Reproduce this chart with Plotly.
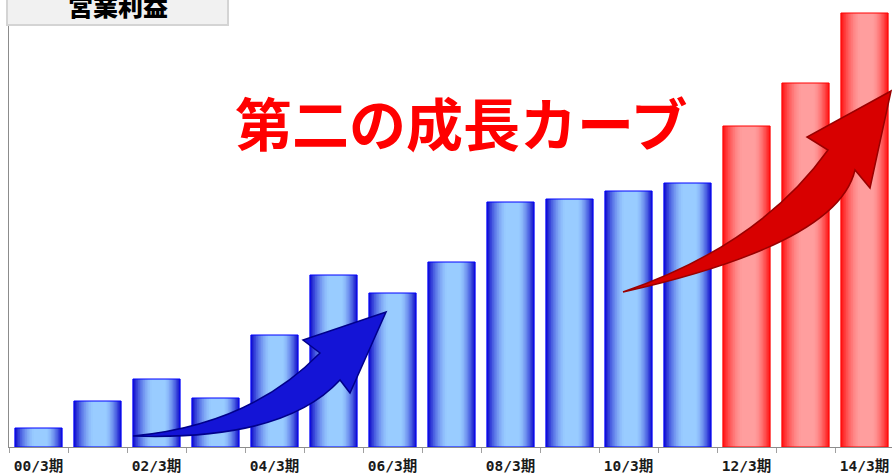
import plotly.graph_objects as go

# ---------------- data ----------------
periods = ["00/3期", "01/3期", "02/3期", "03/3期", "04/3期", "05/3期", "06/3期", "07/3期",
           "08/3期", "09/3期", "10/3期", "11/3期", "12/3期", "13/3期", "14/3期"]
operating_profit = [19, 46, 68, 49, 112, 172, 154, 185, 245, 248, 256, 264, 321, 364, 434]
phase = ["actual"] * 12 + ["plan"] * 3
title_text = "営業利益"
headline = "第二の成長カーブ"

# ---------------- layout constants ----------------
W, H = 892, 475
ML, MR, MT, MB = 9, 0, 0, 28
PW, PH = W - ML - MR, H - MT - MB
CAT_PX = 59.0
x_range = [-0.5, -0.5 + PW / CAT_PX]
y_range = [0, PH]

def to_data(px, py):
    return ((px - ML) / CAT_PX - 0.5, (H - MB - py) * (y_range[1] - y_range[0]) / PH)

def to_paper(px, py):
    return ((px - ML) / PW, (H - MB - py) / PH)

xs = list(range(len(periods)))

edge = {"actual": (22, 22, 205), "plan": (255, 25, 25)}
center = {"actual": (153, 204, 255), "plan": (255, 158, 158)}
outline = {"actual": "rgb(0,0,255)", "plan": "rgb(255,0,0)"}

def mix(a, b, t):
    return "rgb(%d,%d,%d)" % tuple(round(a[i] + (b[i] - a[i]) * t) for i in range(3))

fig = go.Figure()
N = 12
BW = 0.8
for i in range(N):
    t = i / (N - 1)
    w = BW * (1 - 0.72 * t)
    ct = 1 - (1 - t) ** 1.6
    cols = [mix(edge[p], center[p], ct) for p in phase]
    fig.add_trace(go.Bar(
        x=xs, y=operating_profit, width=w, offset=-w / 2 + 0.03 * t,
        marker=dict(color=cols, line=dict(width=0)),
        hoverinfo="skip", showlegend=False))
fig.add_trace(go.Bar(
    x=xs, y=operating_profit, width=BW, offset=-BW / 2,
    marker=dict(color="rgba(0,0,0,0)", line=dict(color=[outline[p] for p in phase], width=1)),
    customdata=periods, hovertemplate="%{customdata}: %{y}<extra></extra>", showlegend=False))

# ---------------- decorative curved arrows ----------------
def pt(px, py):
    x, y = to_data(px, py)
    return "%.4f,%.3f" % (x, y)

def arrow(tail, c_up, neck_up, barb_up, tip, barb_lo, neck_lo, c_lo):
    return ("M " + pt(*tail) + " Q " + pt(*c_up) + " " + pt(*neck_up) +
            " L " + pt(*barb_up) + " L " + pt(*tip) + " L " + pt(*barb_lo) +
            " L " + pt(*neck_lo) + " Q " + pt(*c_lo) + " " + pt(*tail) + " Z")

blue_arrow = arrow((133, 436), (250, 425), (320, 353), (303, 340), (386, 312),
                   (350, 393), (340, 380), (284, 441))
red_arrow = arrow((623, 292), (760, 245), (828, 150), (807, 137), (891, 91),
                  (870, 188), (855, 170), (838, 244))

shapes = [
    dict(type="path", path=blue_arrow, xref="x", yref="y",
         fillcolor="#1414d6", line=dict(color="#00008a", width=1.5)),
    dict(type="path", path=red_arrow, xref="x", yref="y",
         fillcolor="#d80000", line=dict(color="#9a0000", width=1.5)),
]
bx0, by0 = to_paper(7, -6)
bx1, by1 = to_paper(228, 25)
shapes.append(dict(type="rect", xref="paper", yref="paper", x0=bx0, x1=bx1, y0=by1, y1=by0,
                   fillcolor="#f1f1f1", line=dict(color="#d4d4d4", width=2)))

tx, ty = to_paper(118, 5)
hx, hy = to_paper(461, 121)
annotations = [
    dict(text=title_text, xref="paper", yref="paper", x=tx, y=ty, showarrow=False,
         xanchor="center", yanchor="middle",
         font=dict(family="Noto Sans CJK JP", size=25, color="#000000", weight=900)),
    dict(text=headline, xref="paper", yref="paper", x=hx, y=hy, showarrow=False,
         xanchor="center", yanchor="middle",
         font=dict(family="Noto Sans CJK JP", size=57, color="#ff0000", weight="bold")),
]

fig.update_layout(
    width=W, height=H, margin=dict(l=ML, r=MR, t=MT, b=MB),
    paper_bgcolor="white", plot_bgcolor="white",
    barmode="overlay", shapes=shapes, annotations=annotations,
    xaxis=dict(range=x_range, showgrid=False, zeroline=False,
               showline=True, linecolor="#8c8c8c", linewidth=1,
               tickmode="array", tickvals=xs[::2], ticktext=periods[::2],
               ticks="", ticklabelstandoff=6,
               tickfont=dict(family="DejaVu Sans Mono, Noto Sans CJK JP", size=14.5,
                             color="#1a1a1a", weight="bold"),
               minor=dict(ticks="outside", tick0=0.5, dtick=1, ticklen=5,
                          tickcolor="#a0a0a0", showgrid=False)),
    yaxis=dict(range=y_range, showgrid=False, zeroline=False, showticklabels=False,
               showline=True, linecolor="#8c8c8c", linewidth=1, ticks=""),
)

fig.write_html("out.html", config={"displayModeBar": False},
               post_script="document.body.style.margin='0';document.body.style.overflow='hidden';")
